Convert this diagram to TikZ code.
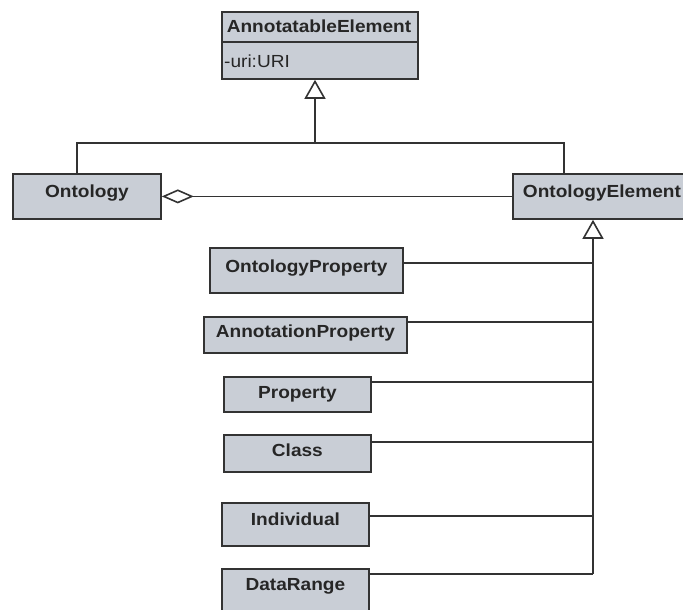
\documentclass[tikz,border=0pt]{standalone}
\usepackage{fontspec}
\setmainfont{Liberation Sans}[FakeStretch=1.09]
\usetikzlibrary{arrows.meta}
\definecolor{boxfill}{HTML}{C9CED6}
\definecolor{ink}{HTML}{333333}
\definecolor{txt}{HTML}{262626}
\tikzset{
  classbox/.style={draw=ink, line width=1.8pt, fill=boxfill, rectangle, anchor=north west,
    inner sep=0pt, text=txt, font=\fontsize{17.5}{20}\selectfont\bfseries},
  cbox/.style n args={3}{classbox, minimum width=#1, text height=#2, text depth=#3},
  conn/.style={draw=ink, line width=1.6pt},
  gen/.style={-{Triangle[open, length=19pt, width=21pt]}},
  agg/.style={{Diamond[open, length=32pt, width=14pt]}-},
  lbl/.style={inner sep=0pt, text=txt, font=\fontsize{17.5}{20}\selectfont}
}
\begin{document}
\begin{tikzpicture}[x=1pt,y=-1pt]
\useasboundingbox (0,0) rectangle (683,610);
\clip (0,0) rectangle (683,610);

% AnnotatableElement
\node[classbox, minimum width=196pt, minimum height=67pt] (AE) at (221,11) {};
\node[lbl, font=\fontsize{17.5}{20}\selectfont\bfseries] (AEname) at (319,26) {AnnotatableElement};
\node[lbl, anchor=west] (AEattr) at (224,61) {-uri:URI};
\coordinate (div) at (0,42);
\draw[draw=ink, line width=1.8pt] (AE.west |- div) -- (AE.east |- div);

% Ontology and OntologyElement
\node[cbox={148pt}{23.3pt}{21.7pt}] (Ont) at (12,173) {Ontology};
\node[cbox={178pt}{23.3pt}{21.7pt}] (OE) at (512,173) {OntologyElement};

% subclasses
\node[cbox={193pt}{24.3pt}{20.7pt}] (OP) at (209,247) {OntologyProperty};
\node[cbox={203pt}{20.3pt}{15.7pt}] (AnP) at (203,316) {AnnotationProperty};
\node[cbox={147pt}{21.3pt}{13.7pt}] (Prop) at (223,376) {Property};
\node[cbox={147pt}{21.3pt}{15.7pt}] (Cls) at (223,434) {Class};
\node[cbox={147pt}{22.3pt}{20.7pt}] (Ind) at (221,502) {Individual};
\node[cbox={147pt}{21.3pt}{23.7pt}] (DR) at (221,568) {DataRange};

% generalization to AnnotatableElement
\coordinate (hub) at (315,143);
\coordinate (hubL) at (77,143);
\coordinate (hubR) at (564,143);
\draw[conn, gen] (hub) -- (hub |- AE.south);
\draw[conn] (hubL |- Ont.north) -- (hubL) -- (hubR) -- (hubR |- OE.north);

% aggregation
\draw[conn, agg] (Ont.east) -- (OE.west);

% generalization to OntologyElement
\coordinate (lOP) at (593,263);
\coordinate (lAnP) at (593,322);
\coordinate (lProp) at (593,382);
\coordinate (lCls) at (593,442);
\coordinate (lInd) at (593,516);
\coordinate (lDR) at (593,574);
\draw[conn, gen] (lDR) -- (lDR |- OE.south);
\draw[conn] (lOP -| OP.east) -- (lOP);
\draw[conn] (lAnP -| AnP.east) -- (lAnP);
\draw[conn] (lProp -| Prop.east) -- (lProp);
\draw[conn] (lCls -| Cls.east) -- (lCls);
\draw[conn] (lInd -| Ind.east) -- (lInd);
\draw[conn] (lDR -| DR.east) -- (lDR);
\end{tikzpicture}
\end{document}
